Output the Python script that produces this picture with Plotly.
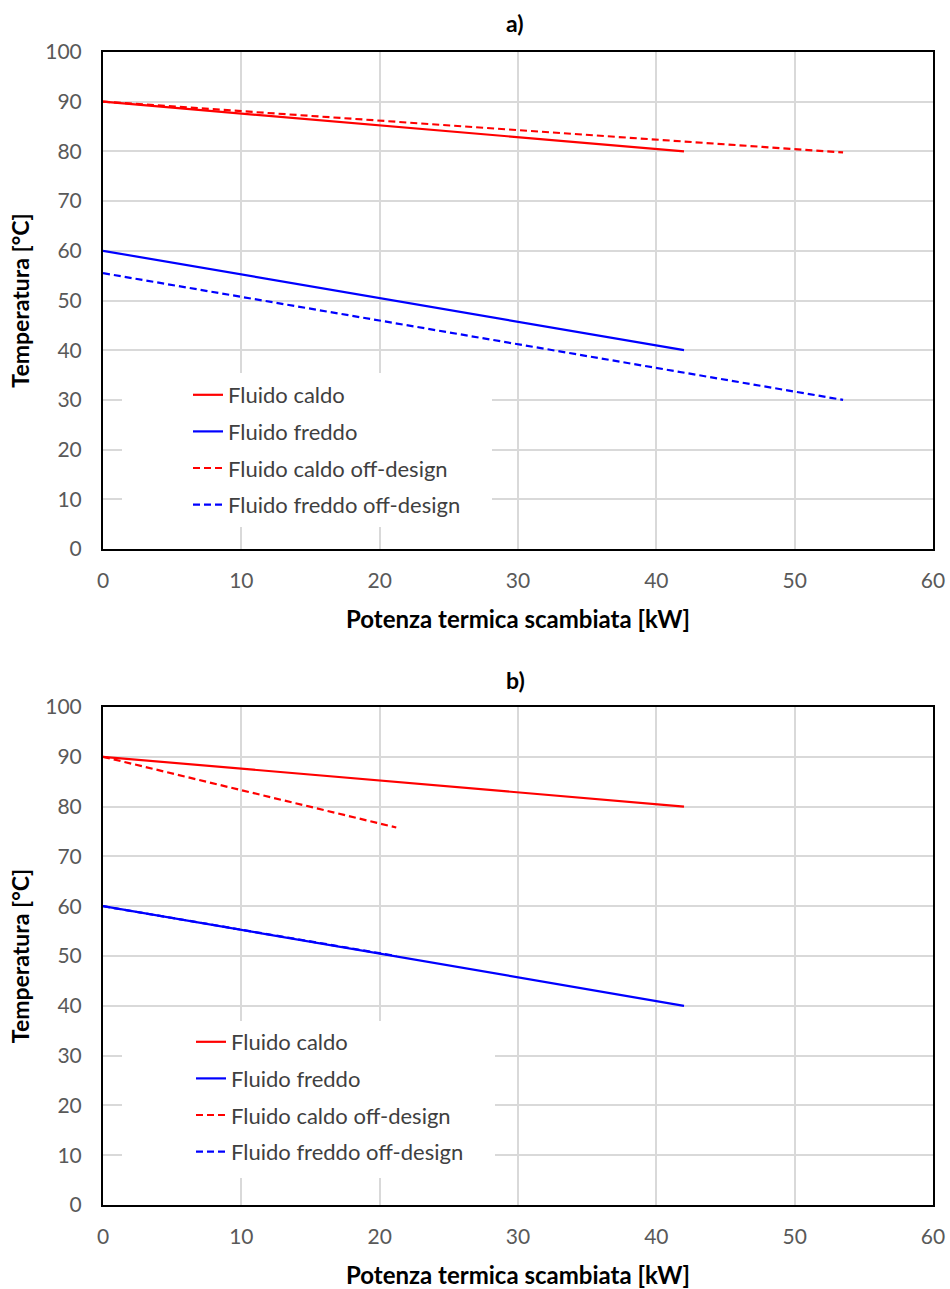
import plotly.graph_objects as go

# ---- data ----
names = ["Fluido caldo", "Fluido freddo", "Fluido caldo off-design", "Fluido freddo off-design"]
colors = ["#ff0000", "#0000ff", "#ff0000", "#0000ff"]
dashes = ["solid", "solid", "7px,4px", "7px,4px"]

# panel a)
a_x = [[0, 42], [0, 42], [0, 53.5], [0, 53.5]]
a_y = [[90, 80], [60, 40], [90, 79.8], [55.5, 30]]
# panel b)
b_x = [[0, 42], [0, 42], [0, 21.2], [0, 21.2]]
b_y = [[90, 80], [60, 40], [90, 75.8], [60, 50]]

x_ticks = [0, 10, 20, 30, 40, 50, 60]
y_ticks = [0, 10, 20, 30, 40, 50, 60, 70, 80, 90, 100]

FONT = "Lato, 'Open Sans', sans-serif"
W, H = 950, 1289

fig = go.Figure()
for panel, (xs, ys), xa, ya, leg in [("a", (a_x, a_y), "x", "y", "legend"),
                                     ("b", (b_x, b_y), "x2", "y2", "legend2")]:
    for i in range(4):
        fig.add_trace(go.Scatter(
            x=xs[i], y=ys[i], mode="lines", name=names[i],
            line=dict(color=colors[i], width=2.2, dash=dashes[i]),
            xaxis=xa, yaxis=ya, legend=leg, legendgroup=panel + str(i),
        ))

def px_x(p):
    return p / W

def px_y(p):
    return 1 - p / H

axis_common = dict(
    showgrid=True, gridcolor="#d9d9d9", gridwidth=2,
    showline=True, linecolor="black", linewidth=2, mirror=True,
    zeroline=False, ticks="", automargin=False,
    tickfont=dict(family=FONT, size=21, color="#595959"),
)
xtitle = dict(text="<b>Potenza termica scambiata [kW]</b>", standoff=20,
              font=dict(family=FONT, size=24, color="black"))
ytitle = dict(text="<b>Temperatura [°C]</b>", standoff=9,
              font=dict(family=FONT, size=23, color="black"))
legfont = dict(family=FONT, size=22, color="#404040")

xdom = [px_x(103), px_x(933)]
fig.update_layout(
    width=W, height=H,
    margin=dict(l=0, r=0, t=0, b=0, autoexpand=False),
    paper_bgcolor="white", plot_bgcolor="white",
    font=dict(family=FONT),
    showlegend=True,
    xaxis=dict(domain=xdom, range=[0, 60], tickvals=x_ticks, anchor="y",
               ticklabelstandoff=12, title=xtitle, **axis_common),
    yaxis=dict(domain=[px_y(549), px_y(52)], range=[0, 100], tickvals=y_ticks, anchor="x",
               ticklabelstandoff=15, title=ytitle, **axis_common),
    xaxis2=dict(domain=xdom, range=[0, 60], tickvals=x_ticks, anchor="y2",
                ticklabelstandoff=12, title=xtitle, **axis_common),
    yaxis2=dict(domain=[px_y(1205), px_y(707)], range=[0, 100], tickvals=y_ticks, anchor="x2",
                ticklabelstandoff=15, title=ytitle, **axis_common),
    legend=dict(x=px_x(188), y=px_y(374), xanchor="left", yanchor="top",
                bgcolor="white", font=legfont, tracegroupgap=5),
    legend2=dict(x=px_x(191), y=px_y(1021), xanchor="left", yanchor="top",
                 bgcolor="white", font=legfont, tracegroupgap=5),
    shapes=[
        # white legend boxes (hide gridlines behind the legends)
        dict(type="rect", xref="paper", yref="paper", layer="above",
             x0=px_x(122), x1=px_x(492), y0=px_y(527), y1=px_y(373),
             fillcolor="white", line=dict(width=0)),
        dict(type="rect", xref="paper", yref="paper", layer="above",
             x0=px_x(122), x1=px_x(495), y0=px_y(1178), y1=px_y(1023),
             fillcolor="white", line=dict(width=0)),
    ],
    annotations=[
        dict(text="<b>a)</b>", x=px_x(515), y=px_y(23), xref="paper", yref="paper",
             xanchor="center", yanchor="middle",
             showarrow=False, font=dict(family=FONT, size=23, color="black")),
        dict(text="<b>b)</b>", x=px_x(515), y=px_y(680), xref="paper", yref="paper",
             xanchor="center", yanchor="middle",
             showarrow=False, font=dict(family=FONT, size=23, color="black")),
    ],
)

fig.write_html("out.html", post_script="document.body.style.margin='0';",
               config={"displayModeBar": False})
